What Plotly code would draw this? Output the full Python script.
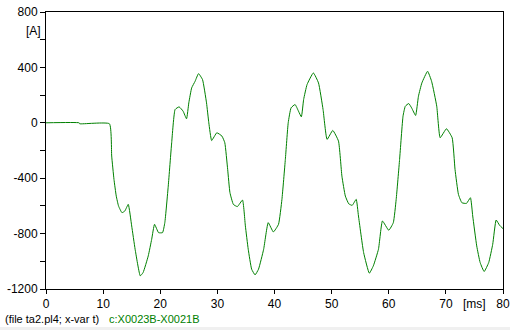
import plotly.graph_objects as go

# time [ms]
t_ms = [0, 5.8, 5.9, 11.1, 11.5, 11.9, 12.3, 12.7, 13.3, 13.8, 14.4, 15.0, 15.6, 16.5, 17.0,
        17.9, 18.5, 19.0, 19.7, 20.4, 20.8, 21.4, 22.0, 22.6, 23.3, 24.0, 24.6, 25.0, 25.5,
        26.1, 26.7, 27.4, 28.1, 28.5, 29.0, 29.9, 30.8, 31.3, 31.8, 32.2, 32.8, 33.5, 34.4,
        34.9, 35.4, 36.0, 36.6, 37.2, 38.1, 38.9, 39.8, 40.7, 41.3, 41.9, 42.4, 42.9, 43.6,
        44.2, 44.7, 45.1, 45.7, 46.8, 47.7, 48.5, 49.2, 50.2, 51.2, 51.8, 52.4, 53.0, 53.6,
        54.3, 54.7, 55.6, 56.6, 57.3, 58.2, 58.9, 60.0, 60.8, 61.3, 61.9, 62.5, 62.9, 63.5,
        64.0, 64.7, 65.2, 65.8, 66.8, 67.5, 68.4, 69.0, 70.1, 71.1, 71.6, 72.2, 72.8, 73.6,
        74.3, 74.7, 75.4, 76.0, 76.7, 77.5, 78.2, 78.8, 79.4, 80.0]

# current c:X0023B-X0021B [A]
current_a = [0, 0, -7, -7, -240, -409, -529, -601, -649, -637, -589, -745, -913, -1105, -1081,
             -961, -841, -733, -793, -793, -721, -457, -144, 96, 115, 84, 29, 144, 252,
             300, 355, 312, 144, 0, -128, -72, -96, -144, -336, -504, -589, -605, -558,
             -745, -913, -1057, -1098, -1057, -913, -721, -788, -733, -553, -264, 0, 108, 132,
             84, 43, 168, 276, 360, 288, 96, -120, -55, -132, -385, -529, -585, -596,
             -553, -673, -937, -1086, -1033, -913, -709, -776, -721, -553, -264, 48, 120, 139,
             108, 53, 192, 288, 372, 300, 120, -108, -43, -108, -336, -517, -577, -582,
             -541, -673, -889, -1009, -1074, -1009, -877, -702, -740, -764]

x_tickvals = [0, 10, 20, 30, 40, 50, 60, 70, 80]
x_ticktext = ["0", "10", "20", "30", "40", "50", "60", "70", "80"]
y_tickvals = [-1200, -1000, -800, -600, -400, -200, 0, 200, 400, 600, 800]
y_ticktext = ["-1200", "", "-800", "", "-400", "", "0", "", "400", "", "800"]

W, H = 510, 330
L, R, T, B = 46, 7, 12, 41
pw, ph = W - L - R, H - T - B

def px_to_paper_x(px):
    return (px - L) / pw

def py_to_paper_y(py):
    return (H - B - py) / ph

fig = go.Figure()
fig.add_trace(go.Scatter(x=t_ms, y=current_a, mode="lines",
                         line=dict(color="#008000", width=1, shape="spline", smoothing=0.4),
                         showlegend=False))

font = dict(family="Liberation Sans, Arial, sans-serif", size=12, color="#000000")

fig.update_layout(
    width=W, height=H,
    margin=dict(l=L, r=R, t=T, b=B, pad=0, autoexpand=False),
    paper_bgcolor="white", plot_bgcolor="white",
    font=font,
    xaxis=dict(range=[0, 80], tickvals=x_tickvals, ticktext=x_ticktext,
               showgrid=False, zeroline=False, showline=True, linecolor="black",
               linewidth=1, mirror=True, ticks="outside", ticklen=4, tickcolor="black",
               tickfont=font, automargin=False),
    yaxis=dict(range=[-1200, 800], tickvals=y_tickvals, ticktext=y_ticktext,
               showgrid=False, zeroline=False, showline=True, linecolor="black",
               linewidth=1, mirror=True, ticks="outside", ticklen=5, tickcolor="black",
               tickfont=font, automargin=False),
)

fig.add_annotation(text="[A]", xref="paper", yref="paper",
                   x=px_to_paper_x(33), y=py_to_paper_y(31),
                   xanchor="center", yanchor="middle", showarrow=False, font=font)
fig.add_annotation(text="[ms]", xref="paper", yref="paper",
                   x=px_to_paper_x(474), y=py_to_paper_y(304),
                   xanchor="center", yanchor="middle", showarrow=False, font=font)
small = dict(family="Liberation Sans, Arial, sans-serif", size=11, color="#000000")
fig.add_annotation(text="(file ta2.pl4; x-var t)", xref="paper", yref="paper",
                   x=px_to_paper_x(3), y=py_to_paper_y(319),
                   xanchor="left", yanchor="middle", showarrow=False, font=small)
fig.add_annotation(text="c:X0023B-X0021B", xref="paper", yref="paper",
                   x=px_to_paper_x(107), y=py_to_paper_y(319),
                   xanchor="left", yanchor="middle", showarrow=False,
                   font=dict(family=small["family"], size=11, color="#008000"))
fig.add_shape(type="rect", xref="paper", yref="paper",
              x0=px_to_paper_x(0), x1=px_to_paper_x(W),
              y0=py_to_paper_y(H), y1=py_to_paper_y(327),
              fillcolor="#f0f0f0", line=dict(width=0), layer="below")

fig.write_html("out.html", config={"displayModeBar": False},
               post_script="document.body.style.margin='0';document.body.style.overflow='hidden';")
